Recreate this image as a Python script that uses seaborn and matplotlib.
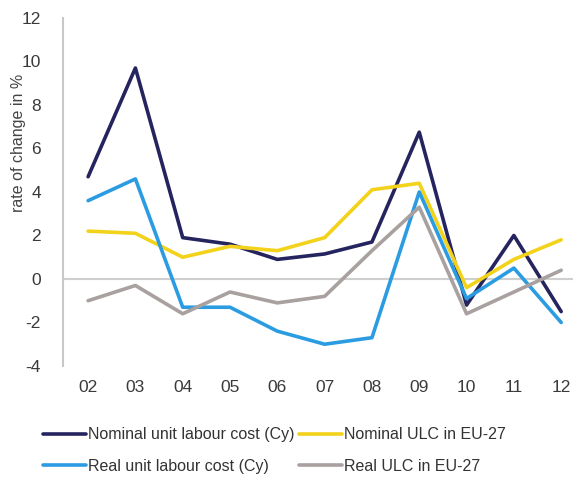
import pandas as pd
import matplotlib.pyplot as plt
import seaborn as sns

years = ["02", "03", "04", "05", "06", "07", "08", "09", "10", "11", "12"]
nominal_cy = [4.7, 9.7, 1.9, 1.6, 0.9, 1.15, 1.7, 6.75, -1.2, 2.0, -1.5]
nominal_eu = [2.2, 2.1, 1.0, 1.5, 1.3, 1.9, 4.1, 4.4, -0.4, 0.9, 1.8]
real_cy = [3.6, 4.6, -1.3, -1.3, -2.4, -3.0, -2.7, 4.0, -0.9, 0.5, -2.0]
real_eu = [-1.0, -0.3, -1.6, -0.6, -1.1, -0.8, 1.3, 3.3, -1.6, -0.6, 0.4]

series = {
    "Nominal unit labour cost (Cy)": nominal_cy,
    "Nominal ULC in EU-27": nominal_eu,
    "Real unit labour cost (Cy)": real_cy,
    "Real ULC in EU-27": real_eu,
}
colors = ["#25245f", "#f3d21c", "#2b9ce2", "#a8a19f"]

rows = []
for name, vals in series.items():
    for i, (yr, v) in enumerate(zip(years, vals)):
        rows.append({"idx": i, "year": yr, "value": v, "series": name})
df = pd.DataFrame(rows)

sns.set_style("white")
plt.rcParams["font.family"] = ["Liberation Sans", "DejaVu Sans"]
plt.rcParams["axes.unicode_minus"] = False

fig = plt.figure(figsize=(5.73, 4.86), dpi=100)
ax = fig.add_axes([0.11, 0.247, 0.89, 0.716])

# zero line
ax.axhline(0, color="#cfcfcf", lw=1.5, zorder=0)

sns.lineplot(data=df, x="idx", y="value", hue="series", palette=colors,
             hue_order=list(series.keys()), lw=2.6, ax=ax, legend=False)

ax.set_xlim(-0.53, 10.25)
ax.set_ylim(-4, 12)
ax.set_yticks(range(-4, 13, 2))
ax.set_xticks(range(len(years)))
ax.set_xticklabels(years)
ax.tick_params(axis="both", labelsize=12.5, colors="#3a3a3a", length=0)
ax.tick_params(axis="y", pad=16)
ax.tick_params(axis="x", pad=10)
ax.set_xlabel("")
ax.set_ylabel("rate of change in %", fontsize=11.5, color="#444444")
ax.yaxis.set_label_coords(-0.072, 0.64)

for s in ["top", "right", "bottom"]:
    ax.spines[s].set_visible(False)
ax.spines["left"].set_color("#c8c8c8")
ax.spines["left"].set_linewidth(1.5)

# legend filled row by row: matplotlib fills columns, so reorder
names = list(series.keys())
order = [0, 2, 1, 3]
handles = [plt.Line2D([], [], color=colors[i], lw=2.6) for i in order]
fig.legend(handles, [names[i] for i in order], ncol=2, loc="lower left",
           bbox_to_anchor=(0.05, -0.005), frameon=False, fontsize=11.5,
           handlelength=2.7, handletextpad=0.1, columnspacing=0.3,
           labelspacing=1.05, labelcolor="#333333")

fig.savefig("out.png", dpi=100)
